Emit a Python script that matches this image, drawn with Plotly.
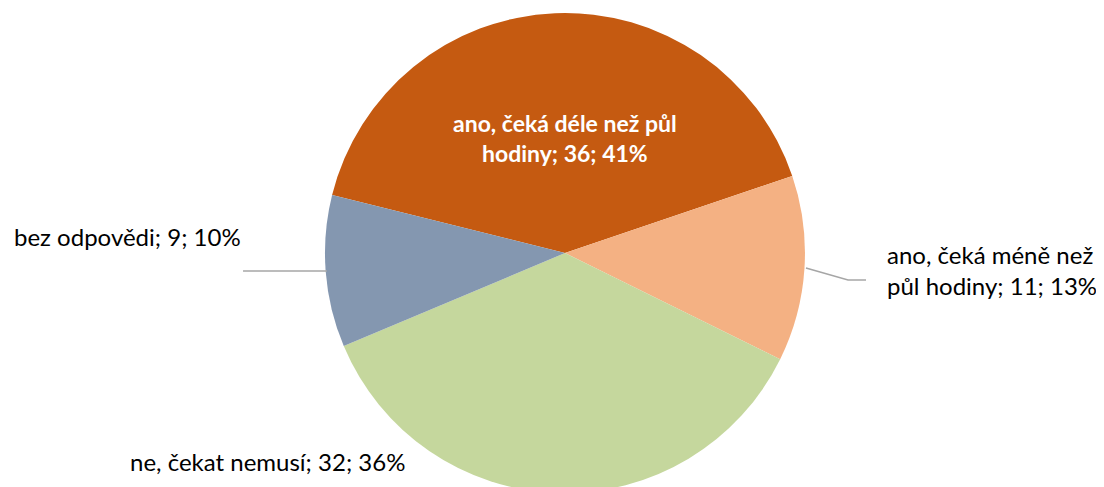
import pandas as pd
import plotly.graph_objects as go

def prepare_answers():
    """
    Prepare survey answers for visualization.
    
    Returns:
        pandas.DataFrame: Answers with counts and colors
    """
    data = [
        {"answer": "ano, čeká déle než půl hodiny", "count": 36, "color": "#C55A11"},
        {"answer": "ano, čeká méně než půl hodiny", "count": 11, "color": "#F4B183"},
        {"answer": "ne, čekat nemusí", "count": 32, "color": "#C5D79D"},
        {"answer": "bez odpovědi", "count": 9, "color": "#8497B0"},
    ]
    
    df = pd.DataFrame(data)
    
    # Percent share rounded half up like the labels (12.5 -> 13)
    df["share"] = (df["count"] / df["count"].sum() * 100 + 0.5).astype(int)
    
    return df

def create_answer_pie_chart(df):
    """
    Create a pie chart of answers with labels outside the slices.
    
    Args:
        df: DataFrame with answers
        
    Returns:
        plotly.graph_objects.Figure: Pie chart figure
    """
    fig = go.Figure()
    
    fig.add_trace(go.Pie(
        labels=df["answer"],
        values=df["count"],
        sort=False,
        direction="clockwise",
        rotation=-76,
        marker=dict(colors=df["color"], line=dict(width=0)),
        textinfo="none",
        hoverinfo="label+value+percent",
        showlegend=False,
        domain=dict(x=[0.2871, 0.7219], y=[0.0041, 0.9897])
    ))
    
    # Label text in the same form as the source: "answer; count; share%"
    texts = [f"{a}; {c}; {s}%" for a, c, s in zip(df["answer"], df["count"], df["share"])]
    font = dict(family="Lato, Open Sans, sans-serif", size=24, color="#000000")
    
    fig.add_annotation(  # big slice, inside
        x=0.5045, y=0.733, xref="paper", yref="paper", yanchor="middle",
        text=texts[0].replace(" půl ", " půl<br>"),
        showarrow=False, align="center",
        font=dict(family="Lato, Open Sans, sans-serif", size=23, color="#FFFFFF", weight="bold")
    )
    fig.add_annotation(
        x=0.7944, y=0.462, xref="paper", yref="paper", xanchor="left", yanchor="middle",
        text=texts[1].replace(" než ", " než<br>"),
        showarrow=False, align="left", font=font
    )
    fig.add_annotation(
        x=0.1087, y=0.0678, xref="paper", yref="paper", xanchor="left", yanchor="middle",
        text=texts[2], showarrow=False, font=font
    )
    fig.add_annotation(
        x=0.0036, y=0.5298, xref="paper", yref="paper", xanchor="left", yanchor="middle",
        text=texts[3], showarrow=False, font=font
    )
    
    # Leader lines
    fig.add_shape(type="line", xref="paper", yref="paper",
                  x0=0.2129, y0=0.46, x1=0.2889, y1=0.46,
                  line=dict(color="#A6A6A6", width=1.5))
    fig.add_shape(type="path", xref="paper", yref="paper",
                  path="M 0.7228 0.4661 L 0.7609 0.4415 L 0.7772 0.4415",
                  line=dict(color="#A6A6A6", width=1.5))
    
    fig.update_layout(
        width=1104,
        height=487,
        margin=dict(l=0, r=0, t=0, b=0),
        paper_bgcolor="white",
        plot_bgcolor="white"
    )
    
    return fig

df = prepare_answers()
fig = create_answer_pie_chart(df)
fig.write_html("out.html")
